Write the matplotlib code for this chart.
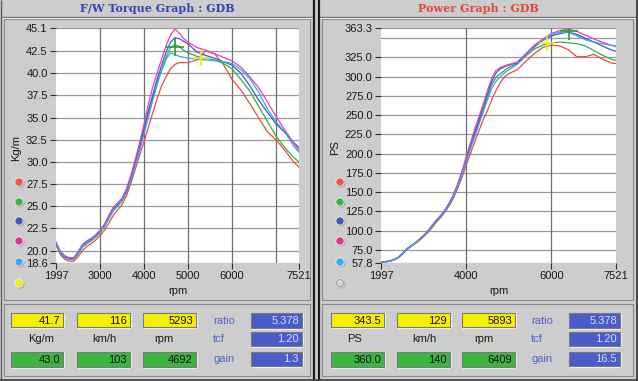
import matplotlib
matplotlib.use('Agg')
import matplotlib.pyplot as plt
from matplotlib.patches import Rectangle, Circle

# ---------------- data ----------------
rpm = [1997, 2100, 2200, 2300, 2400, 2500, 2600, 2700, 2800, 2900,
       3000, 3100, 3200, 3300, 3400, 3500, 3600, 3700, 3800, 3900,
       4000, 4100, 4200, 4300, 4400, 4500, 4600, 4700, 4800, 4900,
       5000, 5200, 5400, 5600, 5800, 6000, 6200, 6400, 6600, 6800,
       7000, 7200, 7400, 7521]

torque_red = [20.6, 19.5, 19.0, 18.8, 18.8, 19.3, 20.0, 20.5, 20.8, 21.2,
              21.7, 22.3, 23.1, 24.0, 24.6, 25.2, 26.2, 27.6, 29.2, 30.8,
              32.3, 34.0, 35.6, 37.2, 38.6, 39.6, 40.5, 41.0, 41.2, 41.2,
              41.2, 41.5, 42.5, 42.2, 41.0, 39.3, 38.1, 36.6, 35.0, 33.4,
              32.5, 31.3, 30.0, 29.4]
torque_green = [20.8, 19.7, 19.2, 19.0, 19.0, 19.6, 20.4, 20.8, 21.1, 21.5,
                22.0, 22.7, 23.6, 24.5, 25.0, 25.6, 26.6, 28.0, 29.8, 31.6,
                33.6, 35.6, 37.4, 39.0, 40.4, 41.8, 42.9, 43.2, 43.0, 42.6,
                42.3, 41.9, 41.7, 41.5, 41.1, 40.5, 39.3, 38.0, 36.3, 34.6,
                32.9, 31.6, 30.5, 30.0]
torque_blue = [20.9, 19.8, 19.3, 19.1, 19.1, 19.8, 20.6, 21.0, 21.3, 21.7,
               22.2, 22.9, 23.8, 24.7, 25.2, 25.8, 26.8, 28.2, 30.0, 31.8,
               33.8, 35.8, 37.6, 39.4, 40.9, 42.4, 43.5, 44.0, 43.9, 43.6,
               43.3, 42.4, 42.0, 41.7, 41.3, 40.9, 40.0, 38.6, 37.0, 35.6,
               34.3, 33.3, 32.2, 31.6]
torque_magenta = [21.0, 19.9, 19.4, 19.2, 19.2, 19.9, 20.7, 21.1, 21.4, 21.8,
                  22.3, 23.0, 24.0, 24.9, 25.4, 25.9, 27.0, 28.5, 30.3, 32.2,
                  34.3, 36.6, 38.5, 40.1, 41.6, 43.1, 44.3, 45.0, 44.5, 43.9,
                  43.5, 42.9, 42.6, 42.2, 41.8, 41.4, 40.7, 39.6, 38.4, 36.8,
                  35.1, 33.6, 32.1, 31.3]
torque_lblue = [20.9, 19.7, 19.2, 19.0, 19.0, 19.7, 20.5, 20.9, 21.2, 21.6,
                22.1, 22.8, 23.7, 24.6, 25.1, 25.7, 26.6, 27.9, 29.6, 31.3,
                33.2, 35.1, 37.0, 38.8, 40.3, 41.6, 42.3, 42.1, 41.9, 41.8,
                41.7, 41.6, 41.5, 41.4, 41.3, 41.1, 40.4, 39.4, 37.9, 36.0,
                34.5, 33.4, 31.8, 31.1]

power_red = [58.5, 59, 60, 61.5, 64.5, 69, 75, 79, 83, 87,
             92, 97.5, 104, 111, 117, 124, 132, 142, 155, 169,
             185, 200, 215, 230, 244, 256, 270, 282, 292, 300,
             304, 309, 320, 330, 338, 341, 340, 335, 326, 326,
             329, 323, 318, 317]
power_green = [59, 59.5, 60.5, 62, 65, 70, 75.5, 79.5, 83.5, 88,
               93, 99, 105.5, 112.5, 118.5, 125.5, 134, 144, 158, 174,
               191, 208, 225, 241, 257, 274, 290, 299, 304, 308,
               312, 317, 327, 336, 341, 344, 345, 344, 343, 340,
               334, 328, 323, 321]
power_blue = [59, 59.5, 60.5, 62, 65, 70, 76, 80, 84, 88.5,
              93.5, 99.5, 106, 113, 119, 126, 135, 145, 159, 175,
              193, 210, 228, 244, 261, 278, 294, 305, 310, 313,
              315, 318, 328, 339, 347, 353, 356, 358, 355, 350,
              345, 340, 335, 333]
power_magenta = [59, 59.5, 60.5, 62, 65, 70, 76, 80, 84, 89,
                 94, 100, 107, 114, 120, 127, 136, 147, 161, 177,
                 196, 214, 232, 248, 264, 282, 298, 308, 312, 314,
                 316, 319, 330, 341, 349, 356, 360, 362, 359, 354,
                 349, 345, 341, 339]
power_lblue = [59, 59.5, 60.5, 62, 65, 70, 76, 80, 84, 88,
               93, 99, 105.5, 112.5, 118.5, 125.5, 134, 144, 157, 173,
               190, 206, 222, 238, 254, 270, 285, 294, 300, 305,
               309, 316, 327, 338, 347, 355, 358, 358, 353, 348,
               345, 343, 341, 340]

torque_yticks = [18.6, 20.0, 22.5, 25.0, 27.5, 30.0, 32.5, 35.0, 37.5, 40.0, 42.5, 45.1]
torque_xticks = [1997, 3000, 4000, 5000, 6000, 7521]
torque_xgrid = [3000, 4000, 5000, 6000, 7000]
power_yticks = [57.8, 75.0, 100.0, 125.0, 150.0, 175.0, 200.0, 225.0, 250.0,
                275.0, 300.0, 325.0, 363.3]
power_ygrid_extra = [350.0]
power_xticks = [1997, 4000, 6000, 7521]
power_xgrid = [4000, 6000]

# cursor read-outs: (yellow, green)
torque_cursor_rpm = [5293, 4692]
torque_cursor_val = [41.7, 43.0]
power_cursor_rpm = [5893, 6409]
power_cursor_val = [343.5, 360.0]

left_yellow = ['41.7', '116', '5293']
left_green = ['43.0', '103', '4692']
left_units = ['Kg/m', 'km/h', 'rpm']
left_blue = ['5.378', '1.20', '1.3']
right_yellow = ['343.5', '129', '5893']
right_green = ['360.0', '140', '6409']
right_units = ['PS', 'km/h', 'rpm']
right_blue = ['5.378', '1.20', '16.5']
param_names = ['ratio', 'tcf', 'gain']

line_colors = ['#f04a3a', '#2fb046', '#4656c4', '#e040c8', '#34a6e6']
dot_colors = ['#f05545', '#3cb44a', '#4a56b8', '#e0358a', '#42a8f2']

FONT = 'Liberation Sans'
W, H = 638, 381

fig = plt.figure(figsize=(W / 100, H / 100), dpi=100)
fig.patch.set_facecolor('#cdcdcd')
bg = fig.add_axes([0, 0, 1, 1])
bg.set_xlim(0, W)
bg.set_ylim(H, 0)
bg.axis('off')


def rect(x0, y0, x1, y1, fc='none', ec='#8c8c8c', lw=0.8, z=1):
    bg.add_patch(Rectangle((x0, y0), x1 - x0, y1 - y0, fc=fc, ec=ec, lw=lw, zorder=z))


def hline(y, x0, x1, c, lw=1.0):
    bg.plot([x0, x1], [y, y], color=c, lw=lw, solid_capstyle='butt', zorder=2)


def vline(x, y0, y1, c, lw=1.0):
    bg.plot([x, x], [y0, y1], color=c, lw=lw, solid_capstyle='butt', zorder=2)


# panel frames
for (px0, px1) in [(1, 313), (319, 636)]:
    hline(16.5, px0, px1, '#707070', 1.0)
    hline(17.5, px0, px1, '#f0f0f0', 0.8)
    rect(px0 + 3, 19, px1 - 3, 300, ec='#8a8a8a', lw=0.8)
    rect(px0 + 3, 304, px1 - 3, 376, ec='#8a8a8a', lw=0.8)
vline(313.5, 0, H, '#1a1a1a', 1.6)
vline(318.5, 0, H, '#1a1a1a', 1.6)
vline(636.5, 0, H, '#303030', 1.2)
vline(0.8, 0, H, '#606060', 1.0)
hline(379.5, 0, W, '#404040', 1.2)

# titles
bg.text(157, 9, 'F/W Torque Graph : GDB', ha='center', va='center',
        fontsize=8, family='DejaVu Serif', weight='bold', color='#3444b8')
bg.text(478, 9, 'Power Graph : GDB', ha='center', va='center',
        fontsize=8, family='DejaVu Serif', weight='bold', color='#e4483a')


def make_plot(px0, px1, xlim, ylim, xs, series, xticks, xgrid, yticks, ygrid_extra,
              cur_x, cur_y, ylabel, ylabel_x, yfmt):
    py0, py1 = 28, 263
    ax = fig.add_axes([px0 / W, 1 - py1 / H, (px1 - px0) / W, (py1 - py0) / H])
    ax.set_facecolor('white')
    ax.set_xlim(*xlim)
    ax.set_ylim(*ylim)
    for s in ax.spines.values():
        s.set_visible(False)
    for yv in list(yticks) + list(ygrid_extra):
        ax.axhline(yv, color='#9a9a9a', lw=0.9, zorder=1)
    for xv in xgrid:
        ax.axvline(xv, color='#6e6e6e', lw=0.9, zorder=1)
    for ys, c in zip(series, line_colors):
        ax.plot(xs, ys, color=c, lw=0.9, zorder=3)
    ax.plot([cur_x[0]], [cur_y[0]], marker='+', color='#f2ea10', ms=12, mew=1.2, zorder=4)
    ax.plot([cur_x[1]], [cur_y[1]], marker='+', color='#20a030', ms=13, mew=1.2, zorder=4)
    ax.set_xticks(xticks)
    ax.set_xticklabels([str(v) for v in xticks], family=FONT, fontsize=8, color='#1a1a1a')
    ax.set_yticks(yticks)
    ax.set_yticklabels([yfmt % v for v in yticks], family=FONT, fontsize=8, color='#1a1a1a')
    ax.tick_params(axis='both', direction='out', length=4, width=0.8, color='#303030', pad=2)
    ax.set_clip_on(False)
    bg.text(ylabel_x, 148, ylabel, rotation=90, ha='center', va='center',
            family=FONT, fontsize=8, color='#1a1a1a')
    bg.text((px0 + px1) / 2, 291, 'rpm', ha='center', va='center',
            family=FONT, fontsize=8, color='#1a1a1a')
    return ax


make_plot(56, 299, (1997, 7521), (18.6, 45.1), rpm,
          [torque_red, torque_green, torque_blue, torque_magenta, torque_lblue],
          torque_xticks, torque_xgrid, torque_yticks, [],
          torque_cursor_rpm, torque_cursor_val, 'Kg/m', 16, '%.1f')
make_plot(381, 616, (1997, 7521), (57.8, 363.3), rpm,
          [power_red, power_green, power_blue, power_magenta, power_lblue],
          power_xticks, power_xgrid, power_yticks, power_ygrid_extra,
          power_cursor_rpm, power_cursor_val, 'PS', 335, '%.1f')

# legend dots
dot_y = [182, 202, 221, 241, 262, 283]
for dx, last in [(19, '#f2ee10'), (340, None)]:
    cols = dot_colors + [last]
    for yy, c in zip(dot_y, cols):
        bg.add_patch(Circle((dx + 1, yy + 1), 4.6, fc='#a8a8a8', ec='none', zorder=3))
        bg.add_patch(Circle((dx, yy), 4.6, fc='#ececec', ec='none', zorder=3))
        if c is None:
            bg.add_patch(Circle((dx, yy), 3.6, fc='#d6d6d6', ec='#a0a0a0', lw=0.8, zorder=4))
        else:
            bg.add_patch(Circle((dx, yy), 3.7, fc=c, ec='none', zorder=4))


def value_box(x0, x1, y0, y1, fc, txt, tc='#101010'):
    rect(x0, y0, x1, y1, fc=fc, ec='#7a7a7a', lw=0.8, z=3)
    hline(y1 + 0.6, x0, x1, '#f4f4f4', 0.8)
    vline(x1 + 0.6, y0, y1, '#f4f4f4', 0.8)
    bg.text(x1 - 3, (y0 + y1) / 2 + 0.5, txt, ha='right', va='center',
            family=FONT, fontsize=8, color=tc, zorder=5)


def info(off, box_x, unit_x, yellow, green, units, blue):
    for (bx0, bx1), ux, yv, gv, un in zip(box_x, unit_x, yellow, green, units):
        value_box(off + bx0, off + bx1, 313, 327, '#f6f000', yv)
        value_box(off + bx0, off + bx1, 352, 367, '#3cb640', gv)
        bg.text(off + ux, 339.5, un, ha='center', va='center',
                family=FONT, fontsize=8, color='#1a1a1a')
    rows = [(313, 328), (332, 346), (352, 366)]
    for (ry0, ry1), nm, bv in zip(rows, param_names, blue):
        value_box(off + 251, off + 302, ry0, ry1, '#4a5cc8', bv, tc='#d4dcff')
        bg.text(off + 213, (ry0 + ry1) / 2, nm, ha='left', va='center',
                family=FONT, fontsize=8, color='#5064c0')


info(0, [(11, 63), (77, 130), (143, 196)], [41, 104, 164],
     left_yellow, left_green, left_units, left_blue)
info(318, [(13, 66), (79, 132), (144, 197)], [37, 106, 166],
     right_yellow, right_green, right_units, right_blue)

fig.savefig('out.png', dpi=100, facecolor=fig.get_facecolor())
